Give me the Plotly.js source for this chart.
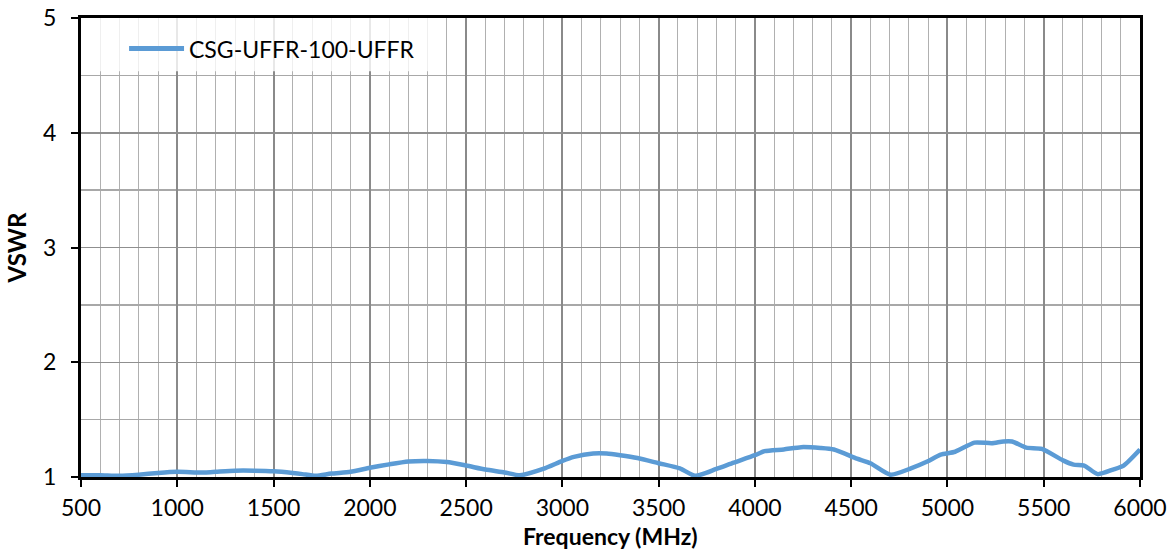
<!DOCTYPE html>
<html>
<head>
<meta charset="utf-8">
<script src="https://cdn.plot.ly/plotly-3.0.1.min.js"></script>
<style>
  html, body { margin: 0; padding: 0; background: #ffffff; }
  #chart { width: 1172px; height: 552px; }
</style>
</head>
<body>
<div id="chart"></div>
<script>
// Frequency (MHz)
const frequency = [500, 600, 700, 800, 900, 1000, 1100, 1150, 1200, 1300, 1400, 1500, 1600, 1650, 1720,
  1800, 1900, 2000, 2100, 2200, 2300, 2400, 2500, 2600, 2700, 2780, 2900, 3000, 3060, 3160, 3230,
  3300, 3390, 3500, 3610, 3690, 3800, 3890, 4000, 4050, 4150, 4240, 4340, 4410, 4530, 4600, 4705,
  4810, 4895, 4965, 5040, 5140, 5230, 5290, 5335, 5410, 5490, 5600, 5655, 5710, 5780, 5860, 5915, 6000];
// VSWR
const vswr = [1.015, 1.015, 1.01, 1.02, 1.035, 1.045, 1.04, 1.04, 1.045, 1.055, 1.055, 1.05, 1.035, 1.025, 1.01,
  1.03, 1.045, 1.08, 1.11, 1.135, 1.14, 1.13, 1.10, 1.065, 1.04, 1.015, 1.07, 1.14, 1.175, 1.205, 1.205,
  1.19, 1.165, 1.12, 1.075, 1.01, 1.07, 1.125, 1.19, 1.225, 1.24, 1.26, 1.253, 1.24, 1.16, 1.12, 1.02,
  1.075, 1.135, 1.195, 1.22, 1.30, 1.295, 1.31, 1.31, 1.256, 1.245, 1.145, 1.108, 1.10, 1.025, 1.065, 1.10, 1.24];
const seriesName = 'CSG-UFFR-100-UFFR';
const xTickValues = [500, 1000, 1500, 2000, 2500, 3000, 3500, 4000, 4500, 5000, 5500, 6000];
const yTickValues = [1, 2, 3, 4, 5];
const xTitle = 'Frequency (MHz)';
const yTitle = 'VSWR';

const FONT = 'Lato, "Open Sans", "DejaVu Sans", sans-serif';
const LINE_COLOR = '#5B9BD5';

const trace = {
  x: frequency,
  y: vswr,
  type: 'scatter',
  mode: 'lines',
  name: seriesName,
  line: { color: LINE_COLOR, width: 4.5, shape: 'spline', smoothing: 0.6 },
  showlegend: false
};

const layout = {
  width: 1172,
  height: 552,
  margin: { l: 81, r: 32, t: 18, b: 75, pad: 0 },
  paper_bgcolor: '#ffffff',
  plot_bgcolor: '#ffffff',
  font: { family: FONT, size: 23, color: '#000000' },
  showlegend: false,
  xaxis: {
    range: [500, 6000],
    tickmode: 'array',
    tickvals: xTickValues,
    ticktext: xTickValues.map(String),
    ticks: 'outside', ticklen: 7, tickwidth: 2, tickcolor: '#000000',
    ticklabelstandoff: 1,
    showline: true, linecolor: '#000000', linewidth: 3, mirror: true,
    showgrid: true, gridcolor: '#8a8a8a', gridwidth: 2,
    minor: { dtick: 100, showgrid: true, gridcolor: '#b0b0b0', gridwidth: 1, ticks: '' },
    zeroline: false,
    tickfont: { family: FONT, size: 23 }
  },
  yaxis: {
    range: [1, 5],
    tickmode: 'array',
    tickvals: yTickValues,
    ticktext: yTickValues.map(String),
    ticks: 'outside', ticklen: 7, tickwidth: 2, tickcolor: '#000000',
    ticklabelstandoff: 10,
    showline: true, linecolor: '#000000', linewidth: 3, mirror: true,
    showgrid: true, gridcolor: '#8f8f8f', gridwidth: 1.5,
    minor: { dtick: 0.5, showgrid: true, gridcolor: '#a8a8a8', gridwidth: 1.5, ticks: '' },
    zeroline: false,
    tickfont: { family: FONT, size: 23 },
    title: { text: yTitle, font: { family: FONT, size: 24, weight: 'bold' }, standoff: 10 }
  },
  shapes: [
    // legend background box
    { type: 'rect', xref: 'paper', yref: 'paper', layer: 'above',
      x0: 0.009, x1: 0.335, y0: 0.884, y1: 1,
      fillcolor: 'rgba(255,255,255,0.8)', line: { width: 0 } },
    // legend line sample
    { type: 'line', xref: 'paper', yref: 'paper', layer: 'above',
      x0: 0.0454, x1: 0.0973, y0: 0.9335, y1: 0.9335,
      line: { color: LINE_COLOR, width: 5 } }
  ],
  annotations: [
    { text: seriesName, xref: 'paper', yref: 'paper', x: 0.1, y: 0.9335,
      xanchor: 'left', yanchor: 'middle', showarrow: false,
      font: { family: FONT, size: 23, color: '#000000' } },
    // x-axis title
    { text: xTitle, xref: 'paper', yref: 'paper', x: 0.5, y: 0, yshift: -59,
      xanchor: 'center', yanchor: 'middle', showarrow: false, borderpad: 0,
      font: { family: FONT, size: 23, weight: 'bold', color: '#000000' } }
  ]
};

Plotly.newPlot('chart', [trace], layout, { displayModeBar: false, staticPlot: true });
</script>
</body>
</html>
